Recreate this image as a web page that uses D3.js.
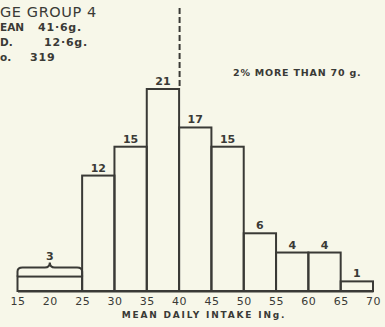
<!DOCTYPE html>
<html><head><meta charset="utf-8">
<script src="https://cdn.jsdelivr.net/npm/d3@7"></script>
<style>
html,body{margin:0;padding:0;background:#f7f7e9;}
svg{display:block;}
text{font-family:"DejaVu Sans",sans-serif;fill:#3a3a36;}
</style></head>
<body>
<script>
const binStarts = [15, 25, 30, 35, 40, 45, 50, 55, 60, 65];
const binEnds   = [25, 30, 35, 40, 45, 50, 55, 60, 65, 70];
const percents  = [3, 12, 15, 21, 17, 15, 6, 4, 4, 1];
const tickValues = [15, 20, 25, 30, 35, 40, 45, 50, 55, 60, 65, 70];
// visible parts of the (cropped) heading block
const titleLines = ["GE GROUP 4"];
const statLabels = ["EAN", "D.", "o."];
const statValues = ["41·6g.", "12·6g.", "319"];
const meanLine = 40;
const noteText = "2% MORE THAN 70 g.";
const xTitle = "MEAN DAILY INTAKE INg.";

const W = 385, H = 327;
const ink = "#3a3a36";
const svg = d3.select("body").append("svg").attr("width", W).attr("height", H);

const x = d3.scaleLinear().domain([15, 70]).range([17.5, 373]);
const y = d3.scaleLinear().domain([0, 21]).range([291, 89]);

// bars (height = percent per 5-unit width)
const bars = binStarts.map((s, i) => ({s, e: binEnds[i], p: percents[i], h: percents[i] * 5 / (binEnds[i] - s)}));
svg.append("g").selectAll("rect").data(bars).join("rect")
  .attr("x", d => x(d.s)).attr("y", d => y(d.h))
  .attr("width", d => x(d.e) - x(d.s)).attr("height", d => y(0) - y(d.h))
  .attr("fill", "none").attr("stroke", ink).attr("stroke-width", 2);

// labels
svg.append("g").selectAll("text").data(bars.slice(1)).join("text")
  .attr("x", d => (x(d.s) + x(d.e)) / 2).attr("y", d => y(d.h) - 4)
  .attr("text-anchor", "middle").attr("font-size", 11).attr("font-weight", "bold")
  .text(d => d.p);

// brace over first wide bin
const b0 = bars[0];
const bx0 = x(b0.s), bx1 = x(b0.e), by = y(b0.h), bm = (bx0 + bx1) / 2;
const braceTop = by - 9;
svg.append("path")
  .attr("d", `M${bx0},${by} L${bx0},${braceTop+4} Q${bx0},${braceTop} ${bx0+5},${braceTop} L${bm-5},${braceTop} Q${bm},${braceTop} ${bm},${braceTop-5} Q${bm},${braceTop} ${bm+5},${braceTop} L${bx1-5},${braceTop} Q${bx1},${braceTop} ${bx1},${braceTop+4} L${bx1},${by}`)
  .attr("fill", "none").attr("stroke", ink).attr("stroke-width", 2);
svg.append("text").attr("x", bm).attr("y", braceTop - 8)
  .attr("text-anchor", "middle").attr("font-size", 11).attr("font-weight", "bold").text(b0.p);

// baseline axis
const axis = d3.axisBottom(x).tickValues(tickValues).tickSize(0).tickPadding(6).tickFormat(d3.format("d"));
const ag = svg.append("g").attr("transform", `translate(0,${y(0)})`).call(axis);
ag.select(".domain").attr("stroke", ink).attr("stroke-width", 2.2);
ag.selectAll("text").attr("font-size", 11).attr("fill", ink).attr("font-family", "DejaVu Sans, sans-serif").attr("letter-spacing", 0.5);

svg.append("text").attr("x", 204).attr("y", 318).attr("text-anchor", "middle")
  .attr("font-size", 9).attr("font-weight", "bold").attr("letter-spacing", 1.8).text(xTitle);

// mean dashed line
svg.append("line").attr("x1", x(meanLine) + 0.5).attr("x2", x(meanLine) + 0.5)
  .attr("y1", 8).attr("y2", y(21))
  .attr("stroke", ink).attr("stroke-width", 2).attr("stroke-dasharray", "6,3");

// title block (visible part of the cropped heading)
svg.append("text").attr("x", 0).attr("y", 17).attr("font-size", 14.5).attr("letter-spacing", 0.6).text(titleLines[0]);
const statYs = [31, 46, 61];
statLabels.forEach((t, i) => {
  svg.append("text").attr("x", 0).attr("y", statYs[i]).attr("font-size", 10.5).attr("font-weight", "bold").text(t);
});
const valXs = [38, 44, 30];
statValues.forEach((t, i) => {
  svg.append("text").attr("x", valXs[i]).attr("y", statYs[i]).attr("font-size", 11).attr("font-weight", "bold").attr("letter-spacing", 0.8).text(t);
});

svg.append("text").attr("x", 233).attr("y", 76).attr("font-size", 9.5).attr("font-weight", "bold").attr("letter-spacing", 0.8).text(noteText);
</script>
</body></html>
